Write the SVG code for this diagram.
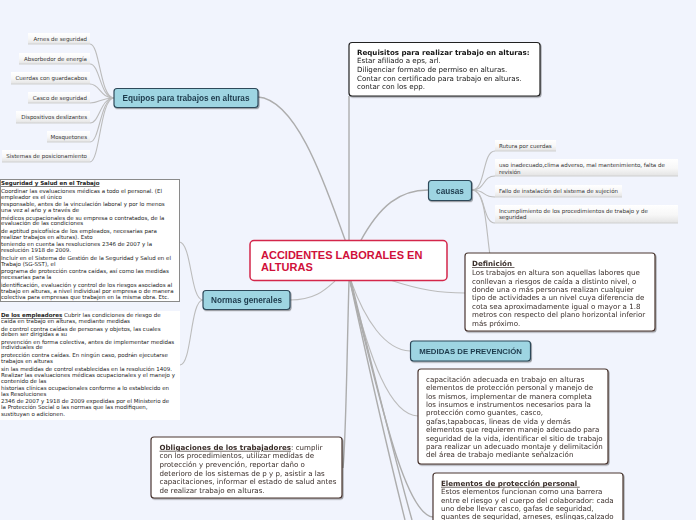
<svg xmlns="http://www.w3.org/2000/svg" width="696" height="520" viewBox="0 0 696 520">
<defs>
<linearGradient id="leafg" x1="0" y1="0" x2="0" y2="1"><stop offset="0" stop-color="#ffffff"/><stop offset="0.55" stop-color="#f7f7f7"/><stop offset="1" stop-color="#e3e3e3"/></linearGradient>
<filter id="sh" x="-10%" y="-10%" width="130%" height="150%"><feDropShadow dx="1" dy="1.2" stdDeviation="0.7" flood-color="#000" flood-opacity="0.35"/></filter>
<style>
.con{fill:none;stroke:#bcbcbc;stroke-width:1.1}
.conc{fill:none;stroke:#adadad;stroke-width:1.4}
.topic rect{fill:#9ed5e2;stroke:#2f4a5a;stroke-width:1.2}
.topic text{font-family:"Liberation Sans",Arial,sans-serif;font-weight:bold;font-size:8.2px;fill:#1d3a4b;text-anchor:middle}
.leaf rect{fill:url(#leafg)}
.leaf line{stroke:#d0d0d0;stroke-width:1}
.leaf text{font-family:"DejaVu Sans",Verdana,sans-serif;font-size:5.5px;fill:#333}
.leafl text{text-anchor:end}
.note rect{fill:#fff;stroke:#4a3630;stroke-width:1.2}
.note text{font-family:"DejaVu Sans",Verdana,sans-serif;font-size:7.1px;fill:#3a2e2a}
.small text{font-family:"DejaVu Sans",Verdana,sans-serif;font-size:5.5px;fill:#222}
.b{font-weight:bold}
.u{text-decoration:underline}
</style>
</defs>
<rect width="696" height="520" fill="#f1f4fd"/>

<g id="connectors">
<path class="conc" d="M258,97 C300,100 330,200 347,245"/>
<path class="conc" d="M349,96 L349,262"/>
<path class="conc" d="M360,242 C380,205 400,190 428,190"/>
<path class="con" d="M390,280 C420,290 440,293 465,293"/>
<path class="con" d="M290,300 C315,300 325,290 335,281"/>
<path class="conc" d="M349,281 C347,350 346,440 343,468"/>
<path class="con" d="M351,281 C365,320 385,350 410,351"/>
<path class="con" d="M350,281 C370,360 390,415 418,416"/>
<path class="conc" d="M350,281 C380,400 405,515 433,517"/>
<path class="conc" d="M350,281 C365,350 390,460 405,520"/>
<path class="conc" d="M351,281 C368,350 395,460 412,520"/>
<path class="con" d="M114,98 C100,98 100,44 90,44"/>
<path class="con" d="M114,98 C100,98 100,64 90,64"/>
<path class="con" d="M114,98 C100,98 100,84 90,84"/>
<path class="con" d="M114,98 C100,98 100,103 90,103"/>
<path class="con" d="M114,98 C100,98 100,123 90,123"/>
<path class="con" d="M114,98 C100,98 100,142 90,142"/>
<path class="con" d="M114,98 C100,98 100,162 90,162"/>
<path class="con" d="M203,300 C190,300 192,242 179,242"/>
<path class="con" d="M203,300 C190,300 192,365 180,365"/>
<path class="con" d="M472,190 C486,190 482,151 495,151"/>
<path class="con" d="M472,190 C486,190 482,176 495,176"/>
<path class="con" d="M472,190 C486,190 482,197 495,197"/>
<path class="con" d="M472,190 C486,190 482,223 495,223"/>
<path class="con" d="M472,190 C486,190 486,230 490,255"/>
</g>

<g id="center">
<rect x="250" y="240.5" width="197" height="40" rx="4" fill="#fff" stroke="#d4264a" stroke-width="1.5"/>
<text font-family="'Liberation Sans',Arial,sans-serif" font-weight="bold" font-size="11px" fill="#d0103a"><tspan x="261" y="259.3">ACCIDENTES LABORALES EN</tspan><tspan x="261" y="270.8">ALTURAS</tspan></text>
</g>

<g id="equipos" class="topic" filter="url(#sh)">
<rect x="114" y="88.5" width="144" height="19" rx="3"/>
<text x="186" y="100.8">Equipos para trabajos en alturas</text>
</g>

<g id="equipos-items" class="leaf leafl">
<rect x="28" y="33" width="62" height="11"/><line x1="28" y1="44" x2="90" y2="44"/><text x="87" y="41">Arnes de seguridad</text>
<rect x="19" y="53" width="71" height="11"/><line x1="19" y1="64" x2="90" y2="64"/><text x="87" y="61">Absorbedor de energía</text>
<rect x="11" y="72" width="79" height="12"/><line x1="11" y1="84" x2="90" y2="84"/><text x="87" y="80.3">Cuerdas con guardacabos</text>
<rect x="28" y="92" width="62" height="11"/><line x1="28" y1="103" x2="90" y2="103"/><text x="87" y="100">Casco de seguridad</text>
<rect x="16" y="111" width="74" height="12"/><line x1="16" y1="123" x2="90" y2="123"/><text x="87" y="119.3">Dispositivos deslizantes</text>
<rect x="47" y="131" width="43" height="11"/><line x1="47" y1="142" x2="90" y2="142"/><text x="87" y="139">Mosquetones</text>
<rect x="2" y="150" width="88" height="12"/><line x1="2" y1="162" x2="90" y2="162"/><text x="87" y="158.2">Sistemas de posicionamiento</text>
</g>

<g id="requisitos" class="note" filter="url(#sh)">
<rect x="349" y="42.5" width="191" height="53.5" rx="3" style="stroke:#222"/>
<text style="fill:#151515"><tspan x="357" y="54.5" class="b">Requisitos para realizar trabajo en alturas:</tspan><tspan x="357" y="63.3">Estar afiliado a eps, arl.</tspan><tspan x="357" y="72">Diligenciar formato de permiso en alturas.</tspan><tspan x="357" y="80.7">Contar con certificado para trabajo en alturas.</tspan><tspan x="357" y="89.3">contar con los epp.</tspan></text>
</g>

<g id="causas" class="topic" filter="url(#sh)">
<rect x="428.5" y="180.5" width="43" height="20" rx="3"/>
<text x="450" y="193.5">causas</text>
</g>

<g id="causas-items" class="leaf">
<rect x="495" y="140" width="61" height="11"/><line x1="495" y1="151" x2="556" y2="151"/><text x="499" y="148.2">Rutura por cuerdas</text>
<rect x="495" y="159" width="183" height="17"/><line x1="495" y1="176" x2="678" y2="176"/><text><tspan x="499" y="167.3">uso inadecuado,clima adverso, mal mantenimiento, falta de</tspan><tspan x="499" y="174">revisión</tspan></text>
<rect x="495" y="185" width="127" height="12"/><line x1="495" y1="197" x2="622" y2="197"/><text x="499" y="193.3">Fallo de instalación del sistema de sujeción</text>
<rect x="495" y="205" width="183" height="18"/><line x1="495" y1="223" x2="678" y2="223"/><text><tspan x="499" y="213.3">Incumplimiento de los procedimientos de trabajo y de</tspan><tspan x="499" y="219.2">seguridad</tspan></text>
</g>

<g id="definicion" class="note" filter="url(#sh)">
<rect x="465" y="253" width="190" height="78" rx="3"/>
<text><tspan x="472" y="266.2" class="b u">Definición </tspan><tspan x="472" y="274.8">Los trabajos en altura son aquellas labores que</tspan><tspan x="472" y="283.5">conllevan a riesgos de caída a distinto nivel, o</tspan><tspan x="472" y="292">donde una o más personas realizan cualquier</tspan><tspan x="472" y="300.4">tipo de actividades a un nivel cuya diferencia de</tspan><tspan x="472" y="308.8">cota sea aproximadamente igual o mayor a 1.8</tspan><tspan x="472" y="317.2">metros con respecto del plano horizontal inferior</tspan><tspan x="472" y="325.6">más próximo.</tspan></text>
</g>

<g id="normas" class="topic" filter="url(#sh)">
<rect x="203" y="290.5" width="87" height="19" rx="3"/>
<text x="246.5" y="303">Normas generales</text>
</g>

<g id="seguridad-salud" class="small">
<rect x="0.5" y="179.5" width="179" height="122" fill="#fff" stroke="#8a8a8a" stroke-width="1"/>
<text><tspan x="1" y="185.2" class="b u">Seguridad y Salud en el Trabajo</tspan><tspan x="1" y="192.7">Coordinar las evaluaciones médicas a todo el personal. (El</tspan><tspan x="1" y="198.7">empleador es el único</tspan><tspan x="1" y="206.3">responsable, antes de la vinculación laboral y por lo menos</tspan><tspan x="1" y="212">una vez al año y a través de</tspan><tspan x="1" y="219.7">médicos ocupacionales de su empresa o contratados, de la</tspan><tspan x="1" y="225.3">evaluación de las condiciones</tspan><tspan x="1" y="233">de aptitud psicofísica de los empleados, necesarias para</tspan><tspan x="1" y="238.7">realizar trabajos en alturas). Esto</tspan><tspan x="1" y="246.3">teniendo en cuenta las resoluciones 2346 de 2007 y la</tspan><tspan x="1" y="252">resolución 1918 de 2009.</tspan><tspan x="1" y="260">Incluir en el Sistema de Gestión de la Seguridad y Salud en el</tspan><tspan x="1" y="265.7">Trabajo (SG-SST), el</tspan><tspan x="1" y="273.3">programa de protección contra caídas, así como las medidas</tspan><tspan x="1" y="279">necesarias para la</tspan><tspan x="1" y="286.7">identificación, evaluación y control de los riesgos asociados al</tspan><tspan x="1" y="292.7">trabajo en alturas, a nivel individual por empresa o de manera</tspan><tspan x="1" y="299">colectiva para empresas que trabajen en la misma obra. Etc.</tspan></text>
</g>

<g id="empleadores" class="small">
<rect x="0" y="311" width="180" height="109" fill="#fff"/>
<text><tspan x="1" y="317.3"><tspan class="b u">De los empleadores</tspan> Cubrir las condiciones de riesgo de</tspan><tspan x="1" y="322.7">caída en trabajo en alturas, mediante medidas</tspan><tspan x="1" y="330.7">de control contra caídas de personas y objetos, las cuales</tspan><tspan x="1" y="336">deben ser dirigidas a su</tspan><tspan x="1" y="344">prevención en forma colectiva, antes de implementar medidas</tspan><tspan x="1" y="349.3">individuales de</tspan><tspan x="1" y="357.3">protección contra caídas. En ningún caso, podrán ejecutarse</tspan><tspan x="1" y="362.7">trabajos en alturas</tspan><tspan x="1" y="370.7">sin las medidas de control establecidas en la resolución 1409.</tspan><tspan x="1" y="376.7">Realizar las evaluaciones médicas ocupacionales y el manejo y</tspan><tspan x="1" y="382.7">contenido de las</tspan><tspan x="1" y="390">historias clínicas ocupacionales conforme a lo establecido en</tspan><tspan x="1" y="395.7">las Resoluciones</tspan><tspan x="1" y="403.3">2346 de 2007 y 1918 de 2009 expedidas por el Ministerio de</tspan><tspan x="1" y="409.3">la Protección Social o las normas que las modifiquen,</tspan><tspan x="1" y="416">sustituyan o adicionen.</tspan></text>
</g>

<g id="medidas" class="topic" filter="url(#sh)">
<rect x="410.5" y="341" width="120" height="20" rx="3"/>
<text x="470.5" y="354" style="font-size:7.8px">MEDIDAS DE PREVENCIÓN</text>
</g>

<g id="medidas-contenido" class="note" filter="url(#sh)">
<rect x="418" y="369" width="190" height="95" rx="3"/>
<text><tspan x="426" y="381.8">capacitación adecuada en trabajo en alturas</tspan><tspan x="426" y="390.2">elementos de protección personal y manejo de</tspan><tspan x="426" y="398.6">los mismos, implementar de manera completa</tspan><tspan x="426" y="407">los insumos e instrumentos necesarios para la</tspan><tspan x="426" y="415.4">protección como guantes, casco,</tspan><tspan x="426" y="423.8">gafas,tapabocas, lineas de vida y demás</tspan><tspan x="426" y="432.2">elementos que requieren manejo adecuado para</tspan><tspan x="426" y="440.6">seguridad de la vida, identificar el sitio de trabajo</tspan><tspan x="426" y="449">para realizar un adecuado montaje y delimitación</tspan><tspan x="426" y="457.4">del área de trabajo mediante señalzación</tspan></text>
</g>

<g id="elementos" class="note" filter="url(#sh)">
<rect x="433" y="473" width="190" height="70" rx="3"/>
<text><tspan x="441" y="485.8" class="b u">Elementos de protección personal </tspan><tspan x="441" y="494.2">Estos elementos funcionan como una barrera</tspan><tspan x="441" y="502.6">entre el riesgo y el cuerpo del colaborador: cada</tspan><tspan x="441" y="511">uno debe llevar casco, gafas de seguridad,</tspan><tspan x="441" y="519.4">guantes de seguridad, arneses, eslingas,calzado</tspan></text>
</g>

<g id="obligaciones" class="note" filter="url(#sh)">
<rect x="151" y="437" width="191" height="61" rx="3"/>
<text><tspan x="159.5" y="449.8"><tspan class="b u">Obligaciones de los trabajadores</tspan>: cumplir</tspan><tspan x="159.5" y="458.4">con los procedimientos, utilizar medidas de</tspan><tspan x="159.5" y="466.9">protección y prevención, reportar daño o</tspan><tspan x="159.5" y="475.5">deterioro de los sistemas de p y p, asistir a las</tspan><tspan x="159.5" y="484.1">capacitaciones, informar el estado de salud antes</tspan><tspan x="159.5" y="492.6">de realizar trabajo en alturas.</tspan></text>
</g>
</svg>
